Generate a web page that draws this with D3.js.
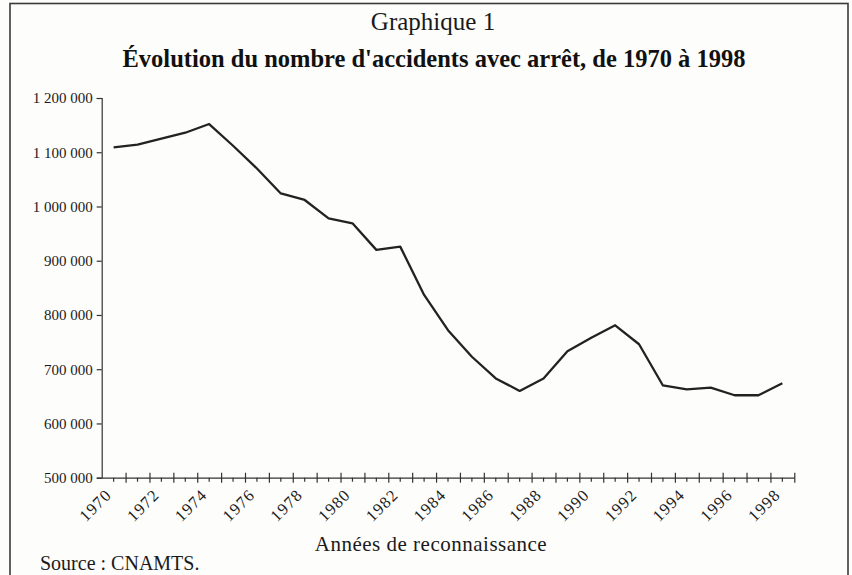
<!DOCTYPE html>
<head>
  <meta charset="utf-8" />
  <script src="https://cdn.jsdelivr.net/npm/d3@7/dist/d3.min.js"></script>
  <style>
    body {
      margin: 0;
      background-color: #fdfdfb;
    }
    svg {
      display: block;
      font-family: "Liberation Serif", "Times New Roman", serif;
    }
    .axis {
      font-family: "Liberation Serif", "Times New Roman", serif;
    }
    .axis path,
    .axis line {
      stroke: #333;
      stroke-width: 1.2;
    }
    .axis text {
      fill: #1a1a1a;
    }
  </style>
</head>

<body>
  <script>
    // annees et nombre d'accidents avec arret
    var years = d3.range(1970, 1999);
    var accidents = [
      1109000, 1114000, 1125000, 1136000, 1152000, 1112000, 1070000, 1024000,
      1012000, 978000, 969000, 920000, 926000, 837000, 772000, 723000,
      683000, 660000, 683000, 733000, 758000, 781000, 746000, 670000,
      663000, 666000, 652000, 652000, 674000
    ];
    var yTicks = [500000, 600000, 700000, 800000, 900000, 1000000, 1100000, 1200000];

    var width = 852,
      height = 575;
    var plotLeft = 101.7,
      plotRight = 794.3,
      plotTop = 98,
      plotBottom = 477.7;

    var svg = d3
      .select("body")
      .append("svg")
      .attr("width", width)
      .attr("height", height);

    // cadre
    svg
      .append("rect")
      .attr("x", 10)
      .attr("y", 3.5)
      .attr("width", 838)
      .attr("height", 600)
      .attr("fill", "none")
      .attr("stroke", "#3a3a3a")
      .attr("stroke-width", 1.6);

    svg
      .append("text")
      .attr("x", 433)
      .attr("y", 30)
      .attr("text-anchor", "middle")
      .style("font-size", "25px")
      .style("fill", "#1a1a1a")
      .text("Graphique 1");

    svg
      .append("text")
      .attr("x", 434)
      .attr("y", 67)
      .attr("text-anchor", "middle")
      .style("font-size", "24.5px")
      .style("font-weight", "bold")
      .style("fill", "#111")
      .text("Évolution du nombre d'accidents avec arrêt, de 1970 à 1998");

    var x = d3.scaleBand().domain(years).range([plotLeft, plotRight]).padding(0);
    var xIdx = d3.scaleLinear().domain([0, years.length]).range([plotLeft, plotRight]);
    var y = d3.scaleLinear().domain([500000, 1200000]).range([plotBottom, plotTop]);

    var fr = d3.formatLocale({
      decimal: ",",
      thousands: " ",
      grouping: [3],
      currency: ["", " €"]
    });

    // axe vertical
    var yAxis = svg
      .append("g")
      .attr("class", "axis")
      .attr("transform", "translate(" + plotLeft + ",0)")
      .call(
        d3
          .axisLeft(y)
          .tickValues(yTicks)
          .tickSize(5)
          .tickPadding(4)
          .tickFormat(fr.format(",d"))
      );
    yAxis.attr("font-family", null);
    yAxis.selectAll("text").style("font-size", "15px");

    // axe horizontal : petites graduations au centre des annees
    var xAxis = svg
      .append("g")
      .attr("class", "axis")
      .attr("transform", "translate(0," + plotBottom + ")")
      .call(
        d3
          .axisBottom(x)
          .tickSizeInner(4)
          .tickSizeOuter(0)
          .tickFormat(function(d) { return d % 2 === 0 ? d : ""; })
      );
    xAxis.attr("font-family", null);
    xAxis
      .selectAll("text")
      .attr("x", 0)
      .attr("y", 0)
      .attr("dy", "0.35em")
      .attr("text-anchor", "end")
      .attr("transform", "translate(-5,14) rotate(-45)")
      .style("font-size", "16.5px")
      .style("letter-spacing", "1.2px");

    // grandes graduations entre les annees
    var xMajor = svg
      .append("g")
      .attr("class", "axis")
      .attr("transform", "translate(0," + plotBottom + ")")
      .call(
        d3
          .axisBottom(xIdx)
          .tickValues(d3.range(1, years.length + 1))
          .tickSize(5)
          .tickFormat("")
      );
    xMajor.select(".domain").remove();
    xMajor.selectAll("line").attr("y1", -5);

    svg
      .append("text")
      .attr("x", 431)
      .attr("y", 551)
      .attr("text-anchor", "middle")
      .style("font-size", "21px")
      .style("letter-spacing", "0.5px")
      .style("fill", "#1a1a1a")
      .text("Années de reconnaissance");

    svg
      .append("text")
      .attr("x", 40)
      .attr("y", 570)
      .style("font-size", "20px")
      .style("fill", "#1a1a1a")
      .text("Source : CNAMTS.");

    var line = d3
      .line()
      .x(function(d, i) { return x(years[i]) + x.bandwidth() / 2; })
      .y(function(d) { return y(d); });

    svg
      .append("path")
      .datum(accidents)
      .attr("d", line)
      .attr("fill", "none")
      .attr("stroke", "#222")
      .attr("stroke-width", 2.3)
      .attr("stroke-linejoin", "round");
  </script>
</body>
